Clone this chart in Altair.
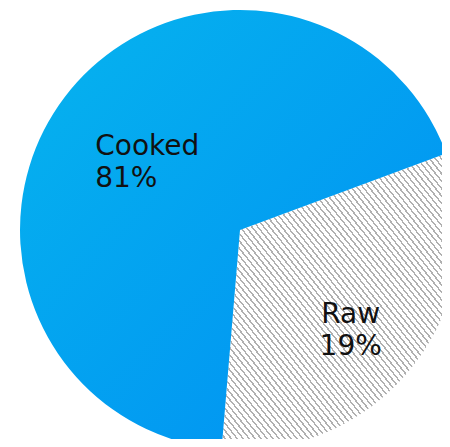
import math
import altair as alt
import pandas as pd

# ---- data ----
categories = ["Raw", "Cooked"]
shares = [32, 68]              # angular share of each slice as drawn
percent_labels = ["19%", "81%"]
slice_order = [0, 1]

df = pd.DataFrame({
    "category": categories,
    "share": shares,
    "pct": percent_labels,
    "order": slice_order,
})

start = math.radians(69.6)
theta_scale = alt.Scale(domain=[0, 100], range=[start, start + 2 * math.pi])

cooked_fill = alt.LinearGradient(
    gradient="linear", x1=0, y1=0, x2=1, y2=1,
    stops=[alt.GradientStop(offset=0, color="#06B4EE"),
           alt.GradientStop(offset=1, color="#008EF3")],
)

# diagonal hatch built as a repeating hard-stop gradient
n_stripes = 80
duty = 0.32
gray = "#B0B0B0"
hstops = []
for i in range(n_stripes):
    a = round(i / n_stripes, 6)
    b = round((i + duty) / n_stripes, 6)
    c = round((i + 1) / n_stripes, 6)
    hstops += [alt.GradientStop(offset=a, color=gray),
               alt.GradientStop(offset=b, color=gray),
               alt.GradientStop(offset=b, color="#FFFFFF"),
               alt.GradientStop(offset=c, color="#FFFFFF")]
hatch_fill = alt.LinearGradient(gradient="linear", x1=0, y1=1, x2=1, y2=0, stops=hstops)

CX, CY, R = 232, 222, 220

base = alt.Chart(df)

arcs = base.mark_arc(outerRadius=R, innerRadius=0).encode(
    theta=alt.Theta("share:Q", stack=True, scale=theta_scale),
    order=alt.Order("order:Q"),
    fill=alt.condition(alt.datum.category == "Raw", alt.value(hatch_fill), alt.value(cooked_fill)),
    x=alt.value(CX), y=alt.value(CY),
)

lab = base.transform_window(
    cum="sum(share)", sort=[alt.SortField("order")], frame=[None, 0]
).transform_calculate(
    mid="datum.cum - datum.share / 2",
    label="datum.category + '\\n' + datum.pct",
)

text_common = dict(baseline="middle", fontSize=28, font="DejaVu Sans",
                   lineBreak="\n", lineHeight=32, color="#111111")

cooked_text = lab.transform_filter(alt.datum.category == "Cooked").mark_text(
    align="left", radius=114, dx=-54, dy=-14, **text_common
).encode(
    theta=alt.Theta("mid:Q", scale=theta_scale, stack=None),
    text="label:N",
    x=alt.value(CX), y=alt.value(CY),
)

raw_text = lab.transform_filter(alt.datum.category == "Raw").mark_text(
    align="center", radius=149, dx=-8, dy=-5, **text_common
).encode(
    theta=alt.Theta("mid:Q", scale=theta_scale, stack=None),
    text="label:N",
    x=alt.value(CX), y=alt.value(CY),
)

chart = alt.layer(arcs, cooked_text, raw_text).properties(
    width=434, height=431, padding=0,
    autosize=alt.AutoSizeParams(type="none"),
    background="white",
).configure_view(stroke=None)

chart.save("out.html", embed_options={"renderer": "svg", "actions": False})
